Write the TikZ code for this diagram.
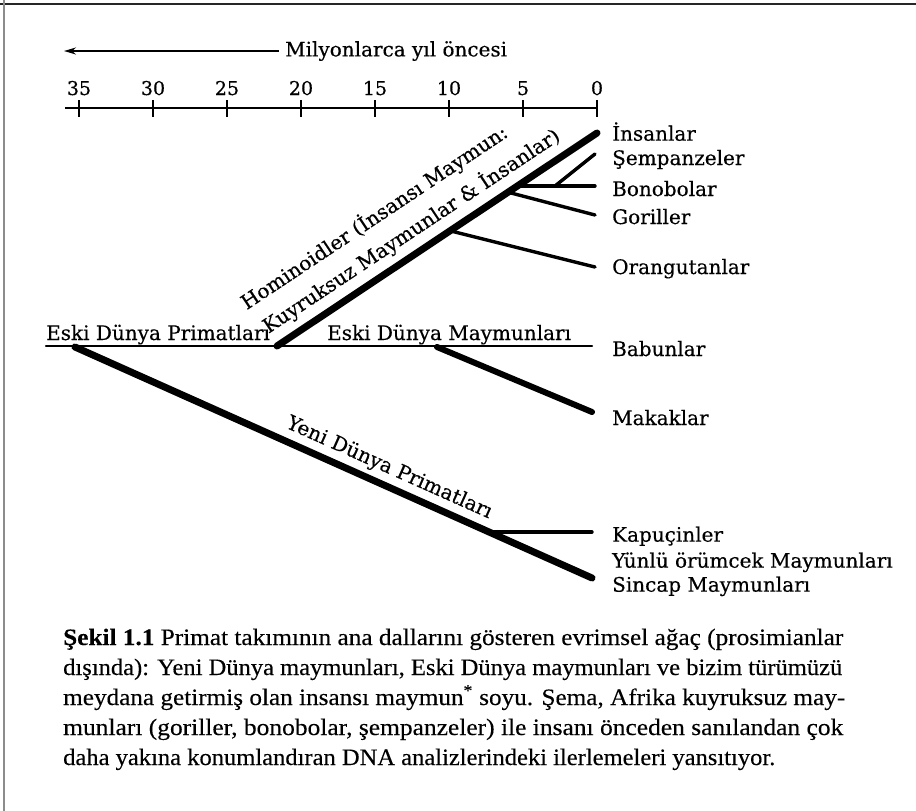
\documentclass[tikz,border=0pt]{standalone}
\usepackage{fontspec}
\setmainfont{DejaVu Serif}[FakeBold=0.35]
\newfontfamily\capfont{Liberation Serif}[FakeBold=0.25]
\usetikzlibrary{arrows.meta}
\begin{document}
\begin{tikzpicture}[x=1pt,y=-1pt,
  lab/.style={font=\fontsize{20}{24}\selectfont, inner sep=0pt},
  num/.style={font=\fontsize{19}{22}\selectfont, inner sep=0pt, anchor=base},
  capline/.style={font=\capfont\fontsize{23.5}{27}\selectfont, inner sep=0pt, anchor=base west},
  thinline/.style={line width=2.3pt, line cap=round},
  midline/.style={line width=3.4pt, line cap=round},
  thickline/.style={line width=7pt, line cap=round},
  axisline/.style={line width=1.6pt},
]
\useasboundingbox (0,0) rectangle (916,811);
\fill[white] (0,0) rectangle (916,811);
\draw[line width=2pt, black!85] (0,4) -- (916,4);
\draw[line width=1.6pt, black!45] (4,0) -- (4,811);

% time axis
\node[lab, anchor=west] (mil) at (285,51) {Milyonlarca yıl öncesi};
\coordinate (arrEnd) at (64,51);
\draw[line width=1.8pt, -{Stealth[length=12pt,width=7pt]}] (mil.west) ++(-6,0) -- (arrEnd);
\coordinate (axL) at (65,108);
\coordinate (axR) at (597,108);
\draw[axisline] (axL) -- (axR);
\foreach \v/\x in {35/79,30/153,25/227,20/301,15/375,10/449,5/523,0/597}{
  \coordinate (tt\v) at (\x,100);
  \coordinate (tb\v) at (\x,117);
  \draw[axisline] (tt\v) -- (tb\v);
  \node[num] (n\v) at (\x,95) {\v};
}

% coordinates of the tree
\coordinate (pL) at (46,346);
\coordinate (pBab) at (592,346);
\coordinate (pRoot) at (75,347);
\coordinate (pHom) at (277,346);
\coordinate (pIns) at (597,133);
\coordinate (pOrB) at (450,230.8);
\coordinate (pOr) at (595,267);
\coordinate (pGoB) at (508,192.2);
\coordinate (pGo) at (595,215);
\coordinate (pBoB) at (518,186);
\coordinate (pBo) at (595,186);
\coordinate (pSeB) at (555,186);
\coordinate (pSe) at (595,154);
\coordinate (pMakB) at (437,347);
\coordinate (pMak) at (592,412);
\coordinate (pSin) at (592,578);
\coordinate (pKapB) at (490,532);
\coordinate (pKap) at (592,532);

% branches
\draw[thinline] (pL) -- (pBab);
\draw[thickline] (pRoot) -- (pSin);
\draw[midline] (pKapB) -- (pKap);
\draw[thickline, line width=6pt] (pMakB) -- (pMak);
\draw[thickline] (pHom) -- (pIns);
\draw[midline] (pOrB) -- (pOr);
\draw[midline] (pGoB) -- (pGo);
\draw[midline] (pBoB) -- (pBo);
\draw[midline] (pSeB) -- (pSe);

% branch labels
\node[lab, anchor=base west] (edp) at (46,340) {Eski Dünya Primatları};
\node[lab, anchor=base west] (edm) at (327,340) {Eski Dünya Maymunları};
\node[lab, anchor=base, rotate=33.6] (hom1) at (378,223) {Hominoidler (İnsansı Maymun:};
\node[lab, anchor=base, rotate=33.6] (hom2) at (415,236.5) {Kuyruksuz Maymunlar \& İnsanlar)};
\node[lab, anchor=base, rotate=-24.1] (ydp) at (387,473) {Yeni Dünya Primatları};

% taxa
\node[lab, anchor=base west] (ins) at (612,140.7) {İnsanlar};
\node[lab, anchor=base west] (sem) at (612,165) {Şempanzeler};
\node[lab, anchor=base west] (bon) at (612,196) {Bonobolar};
\node[lab, anchor=base west] (gor) at (612,224) {Goriller};
\node[lab, anchor=base west] (ora) at (612,274) {Orangutanlar};
\node[lab, anchor=base west] (bab) at (612,356) {Babunlar};
\node[lab, anchor=base west] (mak) at (612,425) {Makaklar};
\node[lab, anchor=base west] (kap) at (612,541.7) {Kapuçinler};
\node[lab, anchor=base west] (yun) at (612,567.7) {Yünlü örümcek Maymunları};
\node[lab, anchor=base west] (sin) at (612,591.7) {Sincap Maymunları};

% caption
\node[capline] (c1) at (63,645) {\resizebox{780pt}{\height}{\textbf{Şekil 1.1} Primat takımının ana dallarını gösteren evrimsel ağaç (prosimianlar}};
\node[capline] (c2) at (63,675) {\resizebox{779pt}{\height}{dışında): Yeni Dünya maymunları, Eski Dünya maymunları ve bizim türümüzü}};
\node[capline] (c3) at (63,705) {\resizebox{782pt}{\height}{meydana getirmiş olan insansı maymun\textsuperscript{*} soyu. Şema, Afrika kuyruksuz may-}};
\node[capline] (c4) at (63,735) {\resizebox{780pt}{\height}{munları (goriller, bonobolar, şempanzeler) ile insanı önceden sanılandan çok}};
\node[capline] (c5) at (63,765) {\resizebox{712pt}{\height}{daha yakına konumlandıran DNA analizlerindeki ilerlemeleri yansıtıyor.}};
\end{tikzpicture}
\end{document}
